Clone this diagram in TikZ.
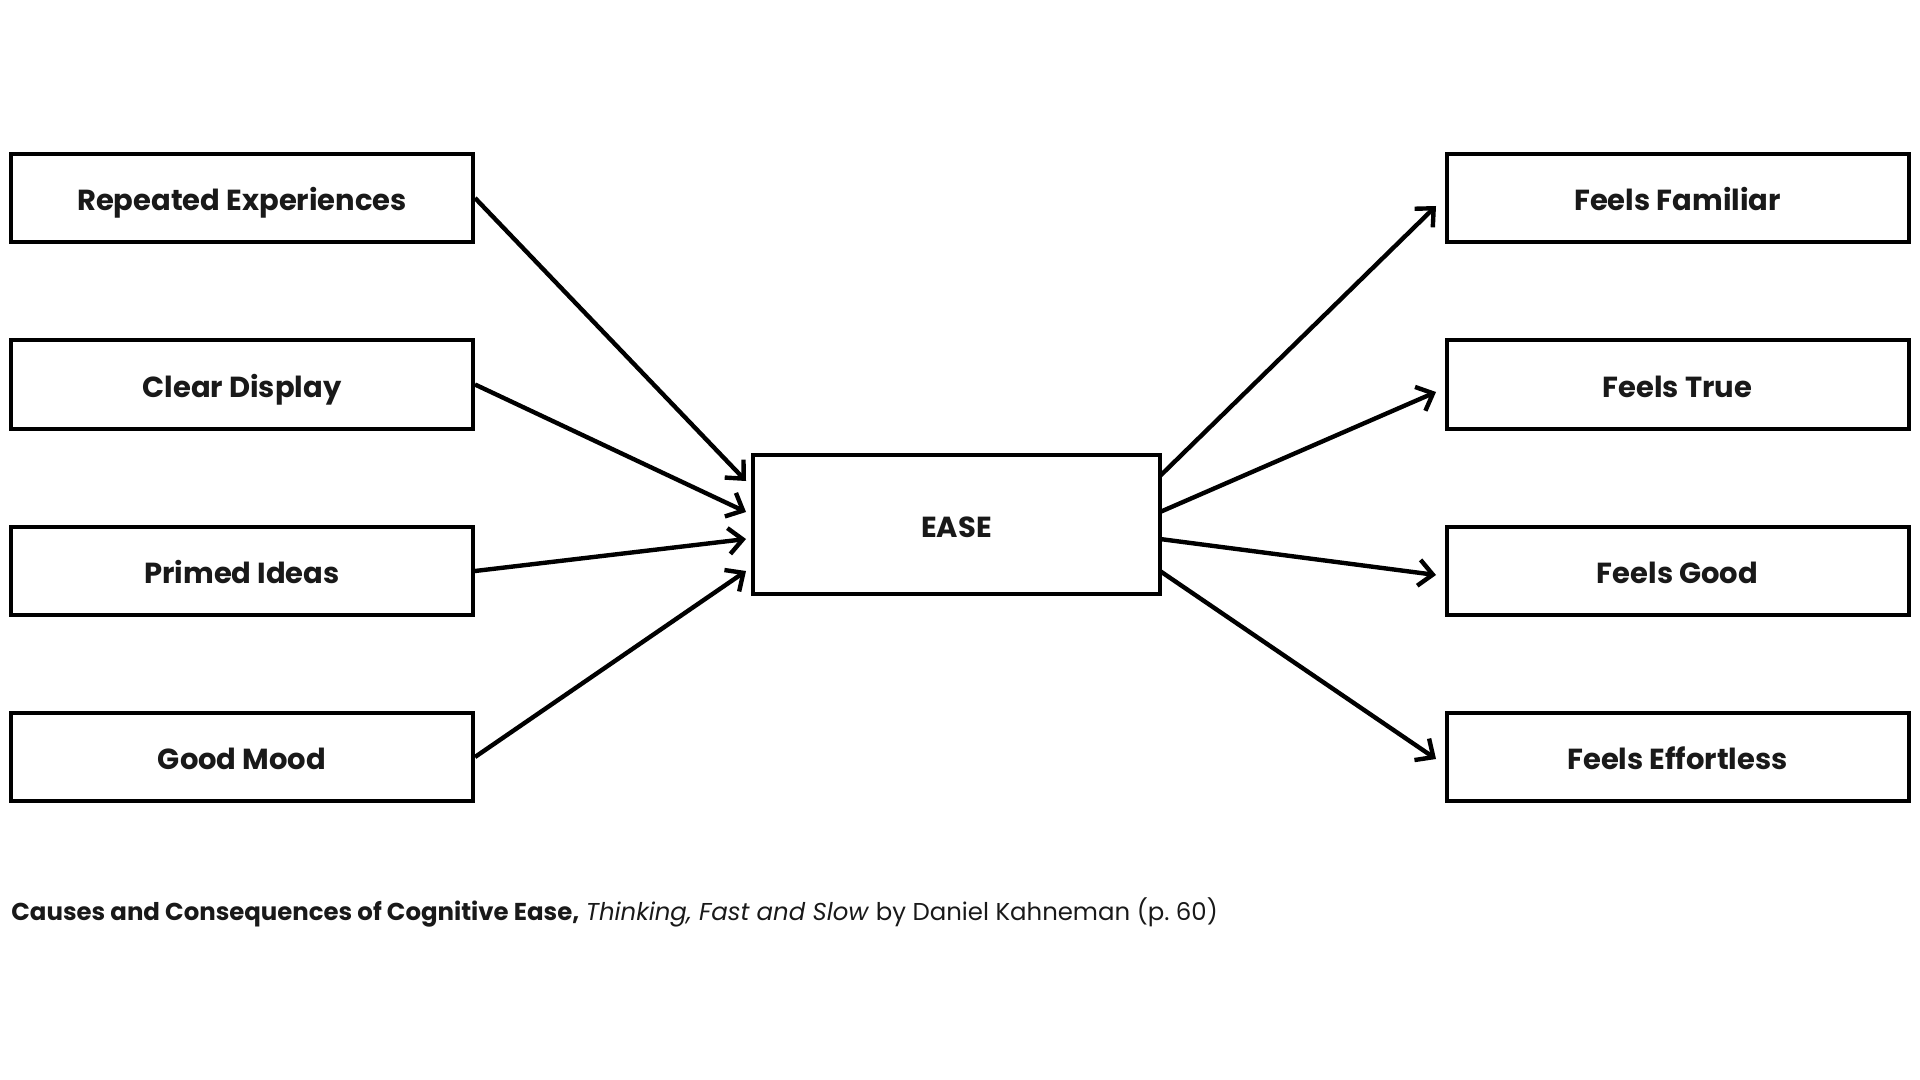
\documentclass[tikz,border=0pt]{standalone}
\usepackage{fontspec}
\setmainfont{Poppins}
\usetikzlibrary{arrows.meta}
\begin{document}
\begin{tikzpicture}[x=0.5pt,y=-0.5pt,
  box/.style={draw=black,line width=2pt,minimum height=44pt,inner sep=0pt,text height=12.5pt,text depth=0pt,font=\bfseries\fontsize{14.5}{16}\selectfont,text=black!90},
  sidebox/.style={box,minimum width=231pt},
  conn/.style={line width=2.2pt,-{Straight Barb[length=7pt,width=13pt,line width=2.2pt]}}]
\useasboundingbox[fill=white] (0,0) rectangle (1920,1080);
\node[sidebox] (c1) at (242,198) {Repeated Experiences};
\node[sidebox] (c2) at (242,384.5) {Clear Display};
\node[sidebox] (c3) at (242,571) {Primed Ideas};
\node[sidebox] (c4) at (242,757) {Good Mood};
\node[box,minimum width=203.5pt,minimum height=69.5pt] (ease) at (956.5,524.5) {EASE};
\node[sidebox] (r1) at (1677.5,198) {Feels Familiar};
\node[sidebox] (r2) at (1677.5,384.5) {Feels True};
\node[sidebox] (r3) at (1677.5,571) {Feels Good};
\node[sidebox] (r4) at (1677.5,757) {Feels Effortless};
\coordinate (i1) at (746,481);
\coordinate (i2) at (746,512);
\coordinate (i3) at (746,539);
\coordinate (i4) at (746,571);
\coordinate (o1) at (1160,476);
\coordinate (o2) at (1160,512);
\coordinate (o3) at (1160,539);
\coordinate (o4) at (1160,571);
\coordinate (t1) at (1436,206);
\coordinate (t2) at (1436,392);
\coordinate (t3) at (1436,575);
\coordinate (t4) at (1436,759);
\draw[conn] (c1.east) -- (i1);
\draw[conn] (c2.east) -- (i2);
\draw[conn] (c3.east) -- (i3);
\draw[conn] (c4.east) -- (i4);
\draw[conn] (o1) -- (t1);
\draw[conn] (o2) -- (t2);
\draw[conn] (o3) -- (t3);
\draw[conn] (o4) -- (t4);
\node[anchor=base west,inner sep=0pt,font=\fontsize{12.2}{14}\selectfont,text=black!90] (cap) at (11,920) {\textbf{Causes and Consequences of Cognitive Ease,} \textit{Thinking, Fast and Slow} by Daniel Kahneman (p.~60)};
\end{tikzpicture}
\end{document}
